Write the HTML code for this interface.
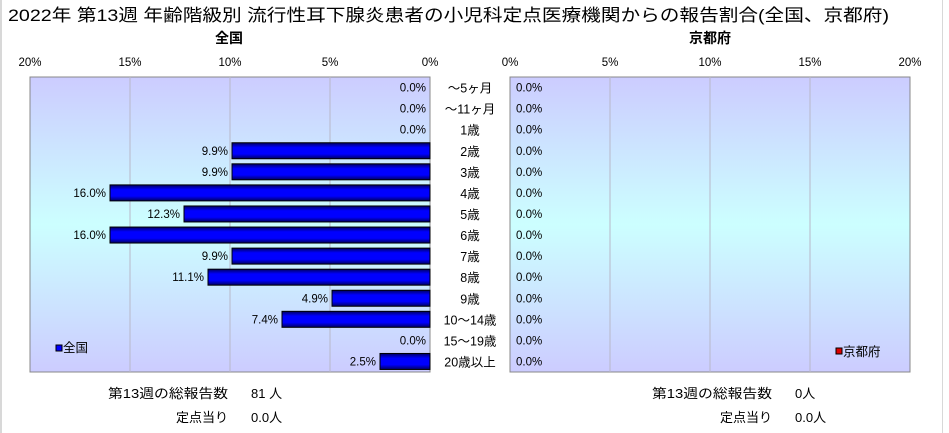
<!DOCTYPE html>
<html><head><meta charset="utf-8"><style>
body{margin:0;background:#fff;}
svg{display:block;font-family:"Liberation Sans","Noto Sans CJK JP",sans-serif;}
</style></head><body>
<svg width="949" height="433">
<defs>
<linearGradient id="bg" x1="0" y1="0" x2="0" y2="1">
<stop offset="0" stop-color="#ccccff"/><stop offset="0.5" stop-color="#ccffff"/><stop offset="1" stop-color="#ccccff"/>
</linearGradient>
<linearGradient id="bar" x1="0" y1="0" x2="0" y2="1">
<stop offset="0" stop-color="#000060"/><stop offset="0.3" stop-color="#0000ff"/><stop offset="0.7" stop-color="#0000ff"/><stop offset="1" stop-color="#000060"/>
</linearGradient>
</defs>
<rect x="0" y="0" width="949" height="433" fill="#fff"/>
<rect x="0" y="0" width="2" height="433" fill="#d8d8d8"/>
<rect x="942" y="0" width="1" height="433" fill="#d8d8d8"/>
<text x="8" y="21" font-size="17" textLength="881" lengthAdjust="spacingAndGlyphs">2022年 第13週 年齢階級別 流行性耳下腺炎患者の小児科定点医療機関からの報告割合(全国、京都府)</text>
<text x="229" y="43" font-size="14" font-weight="bold" text-anchor="middle">全国</text>
<text x="710" y="43" font-size="14" font-weight="bold" text-anchor="middle">京都府</text>
<rect x="30" y="77" width="400" height="295" fill="url(#bg)" stroke="#888"/>
<rect x="510" y="77" width="400" height="295" fill="url(#bg)" stroke="#888"/>
<g id="g"></g>
<rect x="56" y="345" width="6" height="6" fill="#0000ff" stroke="#000"/>
<text x="63" y="352" font-size="12.5">全国</text>
<rect x="836" y="348" width="6" height="6" fill="#dd0000" stroke="#000"/>
<text x="843" y="356" font-size="12.5">京都府</text>
<g font-size="13">
<text x="108" y="398" textLength="120" lengthAdjust="spacingAndGlyphs">第13週の総報告数</text>
<text x="251" y="398">81 人</text>
<text x="228" y="422" text-anchor="end">定点当り</text>
<text x="251" y="422">0.0人</text>
<text x="652" y="398" textLength="120" lengthAdjust="spacingAndGlyphs">第13週の総報告数</text>
<text x="795" y="398">0人</text>
<text x="772" y="422" text-anchor="end">定点当り</text>
<text x="795" y="422">0.0人</text>
</g>
</svg>
<script>
const categories=["～5ヶ月","～11ヶ月","1歳","2歳","3歳","4歳","5歳","6歳","7歳","8歳","9歳","10～14歳","15～19歳","20歳以上"];
const nationalValues=[0,0,0,9.9,9.9,16.0,12.3,16.0,9.9,11.1,4.9,7.4,0,2.5];
const kyotoValues=[0,0,0,0,0,0,0,0,0,0,0,0,0,0];
const tickValues=[0,5,10,15,20];
const tickLabels=["0%","5%","10%","15%","20%"];
const NS="http://www.w3.org/2000/svg";
const g=document.getElementById('g');
const top0=77,h=295,maxV=20,W=400;
const rowH=h/categories.length;
const yC=i=>top0+rowH*(i+0.5);
const xL=v=>430-v/maxV*W;
const xR=v=>510+v/maxV*W;
function mk(tag,attrs,txt){const e=document.createElementNS(NS,tag);for(const k in attrs)e.setAttribute(k,attrs[k]);if(txt!==undefined)e.textContent=txt;g.appendChild(e);return e;}
tickValues.forEach((t,i)=>{
  if(t>0&&t<maxV){
    let l=mk('line',{x1:xL(t),x2:xL(t),y1:top0,y2:top0+h,stroke:'#b8b8c8'});
    
    
    let r=mk('line',{x1:xR(t),x2:xR(t),y1:top0,y2:top0+h,stroke:'#b8b8c8'});
    
    
  }
  let a=mk('text',{x:xL(t),y:66,'font-size':11.5,'text-anchor':'middle'},tickLabels[i]);
  
  
  let b=mk('text',{x:xR(t),y:66,'font-size':11.5,'text-anchor':'middle'},tickLabels[i]);
  
  
});
categories.forEach((c,i)=>{
  const y=yC(i);
  let cl=mk('text',{x:470,y:y+5,'font-size':12.5,'text-anchor':'middle'},c);
  
  
  const v=nationalValues[i];
  if(v>0){
    let b=mk('rect',{x:xL(v),y:y-8,width:430-xL(v),height:16,fill:'url(#bar)',stroke:'#000','stroke-width':1});
    
    
  }
  let vl=mk('text',{x:xL(v)-4,y:y+4,'font-size':11.5,'text-anchor':'end'},v.toFixed(1)+'%');
  
  
  const k=kyotoValues[i];
  if(k>0){
    let b=mk('rect',{x:510,y:y-8,width:xR(k)-510,height:16,fill:'#dd0000',stroke:'#000'});
    
    
  }
  let kl=mk('text',{x:xR(k)+6,y:y+4,'font-size':11.5},k.toFixed(1)+'%');
  
  
});
</script>
</body></html>
